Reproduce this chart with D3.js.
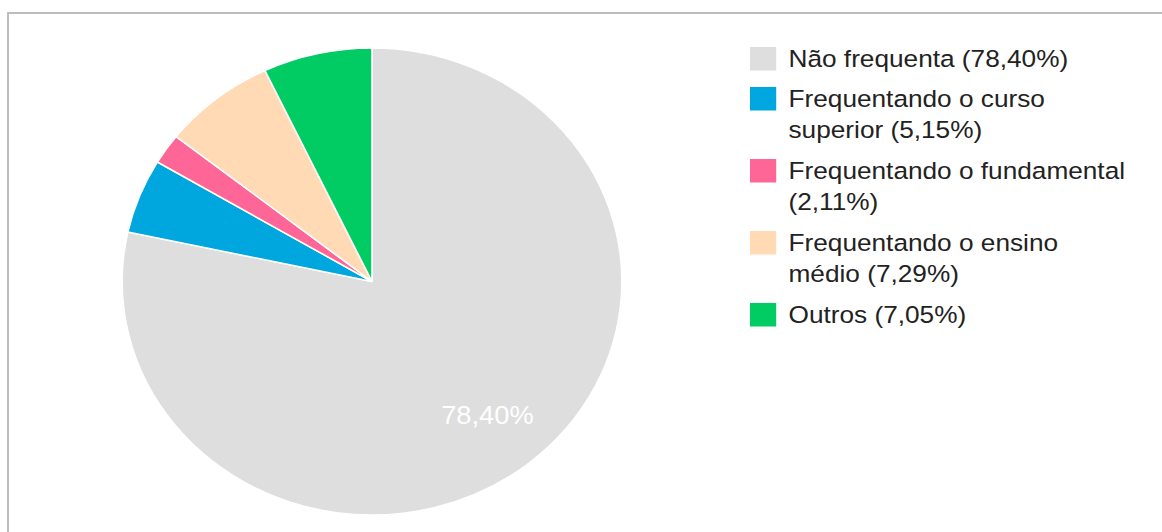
<!DOCTYPE html>
<html>
<head>
<meta charset="utf-8">
<script src="https://cdn.jsdelivr.net/npm/d3@7"></script>
<style>
  body { margin: 0; background: #fff; }
  svg { display: block; font-family: Arial, "Liberation Sans", sans-serif; }
</style>
</head>
<body>
<div id="chart"></div>
<script>
// data
var categories = ["Não frequenta", "Frequentando o curso superior", "Frequentando o fundamental",
                  "Frequentando o ensino médio", "Outros"];
var values = [78.40, 5.15, 2.11, 7.29, 7.05];
var labels = ["78,40%", "5,15%", "2,11%", "7,29%", "7,05%"];
var colors = ["#dedede", "#00a7de", "#ff6698", "#ffdab5", "#00cc63"];

var width = 1162, height = 532;
var sx = 1.07; // picture is a bit wider than tall

var data = categories.map(function(c, i) {
  return { name: c, value: values[i], label: labels[i], color: colors[i] };
});

var svg = d3.select("#chart").append("svg")
    .attr("width", width)
    .attr("height", height);

// frame (only top and left edges are in view)
svg.append("rect")
    .attr("x", 8).attr("y", 13)
    .attr("width", width + 20).attr("height", height + 20)
    .attr("fill", "none")
    .attr("stroke", "#bdbdbd")
    .attr("stroke-width", 2);

var R = 233.5;
var pie = d3.pie().sort(null).value(function(d) { return d.value; });
var arc = d3.arc().innerRadius(0).outerRadius(R);
var labelArc = d3.arc().innerRadius(R * 0.736).outerRadius(R * 0.736);

var g = svg.append("g")
    .attr("transform", "translate(372,281.5) scale(" + sx + ",1)");

g.selectAll("path")
  .data(pie(data))
  .enter()
  .append("path")
  .attr("d", arc)
  .attr("fill", function(d) { return d.data.color; })
  .attr("stroke", "#fff")
  .attr("stroke-width", 1.5);

// only the big slice carries a label
g.selectAll("text.slice")
  .data(pie(data).filter(function(d) { return d.data.value > 10; }))
  .enter()
  .append("text")
  .attr("class", "slice")
  .attr("transform", function(d) { return "translate(" + labelArc.centroid(d) + ")"; })
  .attr("text-anchor", "middle")
  .attr("dy", "0.36em")
  .attr("font-size", "25.5px")
  .attr("fill", "#fff")
  .text(function(d) { return d.data.label; });

// legend
var legend = svg.append("g")
    .attr("transform", "translate(750,47) scale(" + sx + ",1)");

var fontSize = 24.5, lineH = 32, gap = 8, wrapW = 320;
var yPos = 0;

data.forEach(function(d) {
  var item = legend.append("g").attr("transform", "translate(0," + yPos + ")");
  item.append("rect")
      .attr("x", 0).attr("y", 0)
      .attr("width", 24.5).attr("height", 23.5)
      .attr("fill", d.color);
  var t = item.append("text")
      .attr("x", 36)
      .attr("y", 19.5)
      .attr("font-size", fontSize + "px")
      .attr("fill", "#222")
      .text(d.name + " (" + d.label + ")");
  var n = wrap(t, wrapW);
  yPos += n * lineH + gap;
});

function wrap(text, w) {
  var words = text.text().split(/\s+/).reverse(),
      word, line = [], lines = 1,
      x = text.attr("x"), y = text.attr("y"),
      tspan = text.text(null).append("tspan").attr("x", x).attr("y", y);
  while (word = words.pop()) {
    line.push(word);
    tspan.text(line.join(" "));
    if (tspan.node().getComputedTextLength() > w && line.length > 1) {
      line.pop();
      tspan.text(line.join(" "));
      line = [word];
      tspan = text.append("tspan")
          .attr("x", x)
          .attr("y", +y + lines * lineH)
          .text(word);
      lines++;
    }
  }
  return lines;
}
</script>
</body>
</html>
